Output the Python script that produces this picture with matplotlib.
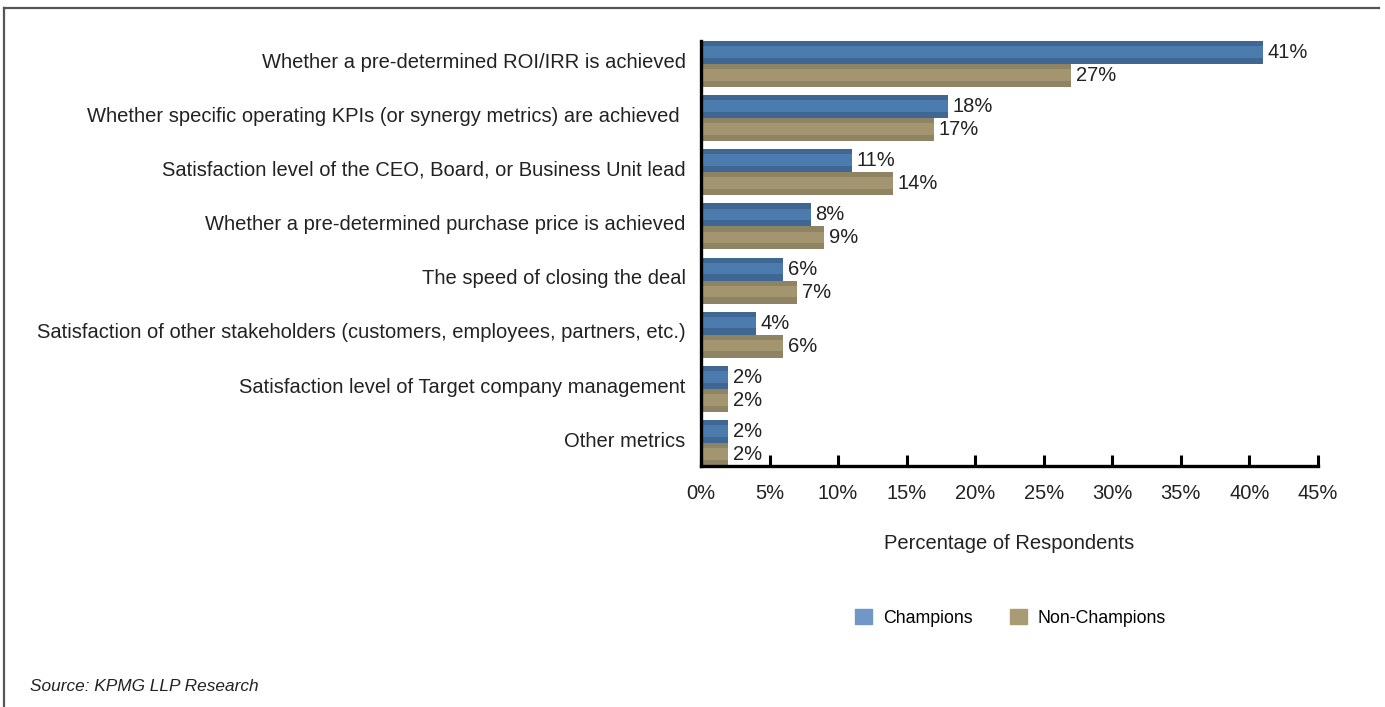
import numpy as np
import matplotlib.pyplot as plt
from matplotlib.lines import Line2D

plt.rcParams['font.family'] = ['Liberation Sans', 'DejaVu Sans']

categories = [
    "Whether a pre-determined ROI/IRR is achieved",
    "Whether specific operating KPIs (or synergy metrics) are achieved ",
    "Satisfaction level of the CEO, Board, or Business Unit lead",
    "Whether a pre-determined purchase price is achieved",
    "The speed of closing the deal",
    "Satisfaction of other stakeholders (customers, employees, partners, etc.)",
    "Satisfaction level of Target company management",
    "Other metrics",
]
champions = [41, 18, 11, 8, 6, 4, 2, 2]
non_champions = [27, 17, 14, 9, 7, 6, 2, 2]
xticks = [0, 5, 10, 15, 20, 25, 30, 35, 40, 45]

blue_dark, blue_mid, blue_leg = "#3e6794", "#4c7cae", "#7097c6"
tan_dark, tan_mid, tan_leg = "#8e8463", "#a49571", "#a99b73"
txt = "#222222"

fig = plt.figure(figsize=(13.85, 7.07), dpi=100)
ax = fig.add_axes([0.5061, 0.3409, 0.4455, 0.6011])

y = np.arange(len(categories))
h = 0.425

def bevel_bar(yc, vals, dark, mid):
    ax.barh(yc, vals, height=h, color=dark, linewidth=0)
    # lighter centre band for the raised look
    ax.barh(yc - 0.01, vals, height=h * 0.5, color=mid, linewidth=0)

bevel_bar(y - h / 2, champions, blue_dark, blue_mid)
bevel_bar(y + h / 2, non_champions, tan_dark, tan_mid)

for yi, c, n in zip(y, champions, non_champions):
    ax.text(c + 0.35, yi - h / 2, f"{c}%", va="center", ha="left", fontsize=14.5, color=txt)
    ax.text(n + 0.35, yi + h / 2, f"{n}%", va="center", ha="left", fontsize=14.5, color=txt)

ax.set_ylim(len(categories) - 1 + h, -h)
ax.set_xlim(0, 45)
ax.set_yticks(y - 0.07)
ax.set_yticklabels(categories, fontsize=14.5, color=txt)
ax.set_xticks(xticks)
ax.set_xticklabels([f"{t}%" for t in xticks], fontsize=14.5, color=txt)
ax.tick_params(axis="y", length=0, pad=11)
ax.tick_params(axis="x", direction="in", length=8, width=2.2, pad=13)

for s in ["top", "right"]:
    ax.spines[s].set_visible(False)
ax.spines["left"].set_linewidth(2.4)
ax.spines["bottom"].set_linewidth(2.4)
ax.set_xlabel("Percentage of Respondents", fontsize=14.5, color=txt, labelpad=22)

handles = [plt.Rectangle((0, 0), 1, 1, color=blue_leg), plt.Rectangle((0, 0), 1, 1, color=tan_leg)]
fig.legend(handles, ["Champions", "Non-Champions"], loc="center", bbox_to_anchor=(0.7295, 0.126),
           ncol=2, frameon=False, fontsize=12.8, handlelength=0.95, handleheight=0.95,
           columnspacing=2.1, handletextpad=0.6)

fig.text(0.0217, 0.022, "Source: KPMG LLP Research", fontsize=12.4, style="italic", color=txt)

# frame lines along the top and left edges
fig.add_artist(Line2D([0.003, 0.996], [0.989, 0.989], color="#555555", linewidth=1.6))
fig.add_artist(Line2D([0.003, 0.003], [0.0, 0.989], color="#555555", linewidth=1.6))

fig.savefig("out.png", dpi=100)
